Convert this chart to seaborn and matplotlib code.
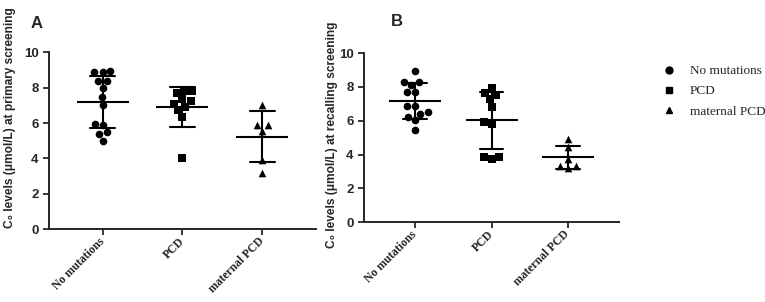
import matplotlib
matplotlib.use('Agg')
import matplotlib.pyplot as plt
from matplotlib.lines import Line2D
import seaborn as sns
import pandas as pd
import warnings

warnings.filterwarnings('ignore')

groups = ['No mutations', 'PCD', 'maternal PCD']
markers = ['o', 's', '^']

# Panel A: C0 at primary screening (umol/L)
a_no_mut = [8.93, 8.87, 8.87, 8.35, 8.35, 7.98, 7.45, 7.02, 5.97, 5.89, 5.50, 5.40, 5.01]
a_pcd = [7.82, 7.82, 7.67, 7.36, 7.22, 7.08, 6.89, 6.72, 6.36, 4.01]
a_maternal = [7.02, 5.89, 5.89, 5.56, 3.89, 3.16]

# Panel B: C0 at recalling screening (umol/L)
b_no_mut = [8.97, 8.30, 8.30, 8.12, 7.73, 7.73, 6.88, 6.88, 6.54, 6.42, 6.20, 6.05, 5.46]
b_pcd = [7.93, 7.66, 7.53, 7.28, 6.84, 5.92, 5.82, 3.83, 3.83, 3.73]
b_maternal = [4.92, 4.44, 3.72, 3.34, 3.34, 3.23]

y_ticks = [0, 2, 4, 6, 8, 10]


def to_frame(no_mut, pcd, maternal):
    rows = []
    for g, vals in zip(groups, [no_mut, pcd, maternal]):
        for v in vals:
            rows.append({'group': g, 'value': v})
    return pd.DataFrame(rows)


def draw_panel(ax, df, ylabel):
    for g, m in zip(groups, markers):
        sub = df[df['group'] == g]
        sns.swarmplot(data=sub, x='group', y='value', order=groups, marker=m,
                      color='black', size=5.5, ax=ax)
    # mean +/- SD
    sns.pointplot(data=df, x='group', y='value', order=groups, errorbar='sd',
                  capsize=0.31, color='black', marker='_', linestyle='none',
                  markersize=38, markeredgewidth=1.5,
                  err_kws={'linewidth': 1.5}, ax=ax)
    ax.set_ylim(0, 10)
    ax.set_xlim(-0.67, 2.67)
    ax.set_yticks(y_ticks)
    ax.set_xlabel('')
    ax.set_ylabel(ylabel, fontsize=8.6, fontweight='bold', family=['Liberation Sans', 'DejaVu Sans'])
    ax.tick_params(axis='both', width=1.3, length=4, direction='out')
    for lab in ax.get_yticklabels():
        lab.set_fontfamily('Liberation Sans')
        lab.set_fontweight('bold')
        lab.set_fontsize(9.5)
    ax.set_xticks(range(len(groups)))
    ax.set_xticklabels(groups, rotation=45, ha='right', va='center', rotation_mode='anchor',
                       family='Liberation Serif', fontweight='bold', fontsize=8.5)
    for s in ['left', 'bottom']:
        ax.spines[s].set_linewidth(1.4)
    sns.despine(ax=ax)


def main():
    sns.set_style('ticks')
    fig = plt.figure(figsize=(7.65, 3.02), dpi=100)
    ax_a = fig.add_axes([0.064, 0.241, 0.349, 0.586])
    ax_b = fig.add_axes([0.476, 0.264, 0.333, 0.560])

    draw_panel(ax_a, to_frame(a_no_mut, a_pcd, a_maternal),
               'C\u2080 levels (\u03bcmol/L) at primary screening')
    draw_panel(ax_b, to_frame(b_no_mut, b_pcd, b_maternal),
               'C\u2080 levels (\u03bcmol/L) at recalling screening')
    ax_a.yaxis.set_label_coords(-0.125, 0.63)
    ax_b.yaxis.set_label_coords(-0.104, 0.52)

    ax_a.text(-0.045, 1.16, 'A', transform=ax_a.transAxes, fontsize=12, fontweight='bold',
              family='Liberation Sans', va='center', ha='center')
    ax_b.text(0.13, 1.185, 'B', transform=ax_b.transAxes, fontsize=12, fontweight='bold',
              family='Liberation Sans', va='center', ha='center')

    handles = [Line2D([], [], marker=m, linestyle='none', color='black', markersize=5)
               for m in markers]
    fig.legend(handles, groups, loc='upper left', bbox_to_anchor=(0.855, 0.815),
               frameon=False, prop={'family': 'Liberation Serif', 'size': 9.5},
               handlelength=0.8, handletextpad=1.2, labelspacing=0.6,
               borderpad=0.2)

    fig.savefig('out.png', dpi=100)
    plt.close(fig)


if __name__ == '__main__':
    main()
